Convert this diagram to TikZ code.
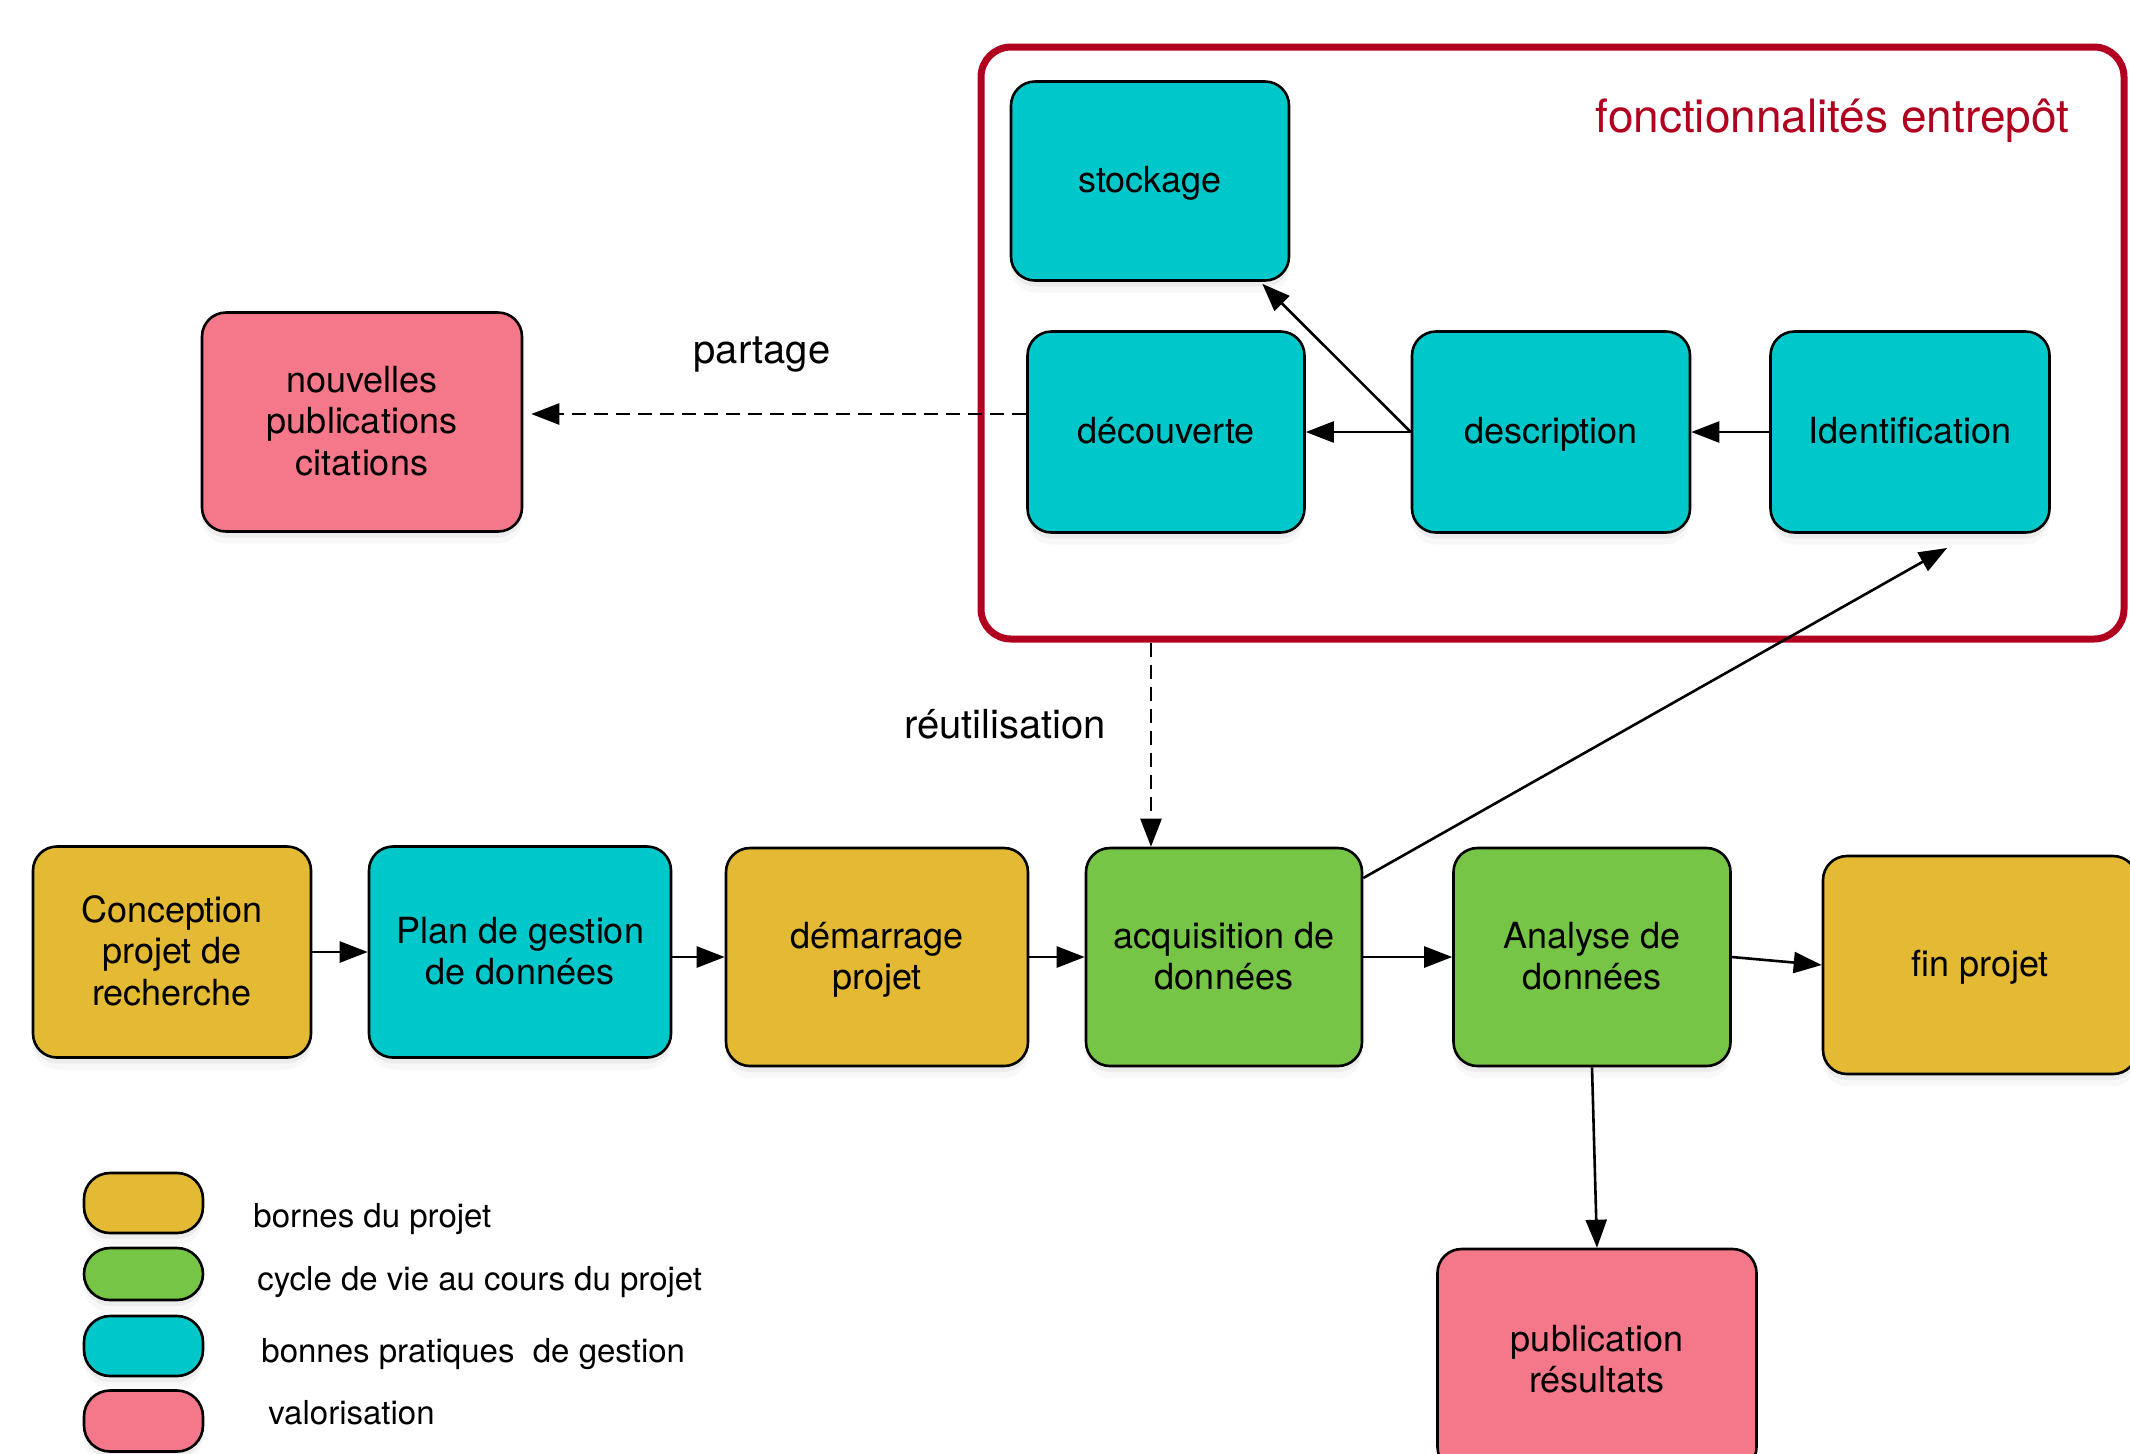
\documentclass[tikz,border=0pt]{standalone}
\usepackage{fontspec}
\setmainfont{TeX Gyre Heros}
\usetikzlibrary{arrows.meta,shadows}
\definecolor{cgold}{HTML}{E4B934}
\definecolor{cteal}{HTML}{00C8CA}
\definecolor{cgreen}{HTML}{77C546}
\definecolor{cpink}{HTML}{F5788A}
\definecolor{cred}{HTML}{B1001F}
\newcommand\tstrut{\vrule height .90em depth .235em width 0pt\relax}
\begin{document}
\begin{tikzpicture}[x=0.5pt,y=-0.5pt,
  sz/.style 2 args={minimum width=#1*0.5pt, minimum height=#2*0.5pt},
  shad/.style={drop shadow={shadow xshift=0pt, shadow yshift=-3pt, opacity=0.10},
    drop shadow={shadow xshift=0pt, shadow yshift=-6pt, opacity=0.06}},
  box/.style={draw=black, line width=1.3pt, rounded corners=12pt, align=center,
    inner sep=0pt, font=\fontsize{18}{20.7}\selectfont, shad},
  pill/.style={draw=black, line width=1.3pt, rounded corners=13pt, inner sep=0pt,
    minimum width=59.5pt, shad},
  legtxt/.style={anchor=west, inner sep=0pt, font=\fontsize{16.5}{19}\selectfont},
  lbl/.style={inner sep=0pt, font=\fontsize{20}{24}\selectfont},
  arr/.style={line width=1.3pt, -{Triangle[length=14pt,width=10.5pt]}},
  dsh/.style={dash pattern=on 7pt off 4pt}
]
\useasboundingbox (0,0) rectangle (2130,1453);

% warehouse frame
\node[draw=cred, line width=3.5pt, rounded corners=15pt, sz={1143}{592}] (frame) at (1552.5,343) {};
\node[anchor=east, inner sep=0pt, text=cred, font=\fontsize{23}{27.6}\selectfont] (title) at (2070,117) {\tstrut fonctionnalités entrepôt};

% warehouse functions
\node[box, fill=cteal, sz={278}{199}] (stock) at (1150,181) {\tstrut stockage};
\node[box, fill=cteal, sz={277}{201}] (decouv) at (1166,432) {\tstrut découverte};
\node[box, fill=cteal, sz={278}{201}] (descr) at (1551,432) {\tstrut description};
\node[box, fill=cteal, sz={279}{201}] (ident) at (1910,432) {\tstrut Identification};

\node[box, fill=cpink, sz={320}{219}] (nouv) at (362,422) {\tstrut nouvelles\\\tstrut publications\\\tstrut citations};

% main row
\node[box, fill=cgold, sz={278}{211}] (conc) at (172,952) {\tstrut Conception\\\tstrut projet de\\\tstrut recherche};
\node[box, fill=cteal, sz={302}{211}] (plan) at (520,952) {\tstrut Plan de gestion\\\tstrut de données};
\node[box, fill=cgold, sz={302}{218}] (dem) at (877,957) {\tstrut démarrage\\\tstrut projet};
\node[box, fill=cgreen, sz={276}{218}] (acq) at (1224,957) {\tstrut acquisition de\\\tstrut données};
\node[box, fill=cgreen, sz={277}{218}] (ana) at (1592,957) {\tstrut Analyse de\\\tstrut données};
\node[box, fill=cgold, sz={314}{218}] (fin) at (1980,965) {\tstrut fin projet};
\node[box, fill=cpink, sz={319}{222}] (pub) at (1597,1360) {\tstrut publication\\\tstrut résultats};

% labels
\node[lbl] (partage) at (762,350) {\tstrut partage};
\node[lbl] (reut) at (1005,725) {\tstrut réutilisation};

% legend
\node[pill, fill=cgold, minimum height=30pt] (leg1) at (143.5,1203) {};
\node[pill, fill=cgreen, minimum height=26pt] (leg2) at (143.5,1274) {};
\node[pill, fill=cteal, minimum height=30pt] (leg3) at (143.5,1346) {};
\node[pill, fill=cpink, minimum height=30.5pt] (leg4) at (143.5,1421) {};
\node[legtxt] (lt1) at (253,1217) {\tstrut bornes du projet};
\node[legtxt] (lt2) at (257,1280) {\tstrut cycle de vie au cours du projet};
\node[legtxt] (lt3) at (261,1352) {\tstrut bonnes pratiques~~de gestion};
\node[legtxt] (lt4) at (268,1414) {\tstrut valorisation};

% connectors
\coordinate (diagend) at (1947,548);
\coordinate (reutx) at (1151,700);

\draw[arr] (conc.east) -- (plan.west);
\draw[arr] (plan.east |- dem.west) -- (dem.west);
\draw[arr] (dem.east) -- (acq.west);
\draw[arr] (acq.east) -- (ana.west);
\draw[arr] (ana.east) -- (fin.west);
\draw[arr] (ana.south) -- (pub.north);
\draw[arr] ([yshift=39.5pt]acq.east) -- (diagend);
\draw[arr, dsh] (frame.south -| reutx) -- (acq.north -| reutx);
\draw[arr, dsh, shorten >=4pt] ([yshift=9pt]decouv.west) -- ([yshift=9pt]decouv.west -| nouv.east);
\draw[arr] (descr.west) -- (decouv.east);
\draw[arr] (ident.west) -- (descr.east);
\draw[arr] (descr.west) -- ([xshift=-14pt,yshift=-1pt]stock.south east);
\end{tikzpicture}
\end{document}
